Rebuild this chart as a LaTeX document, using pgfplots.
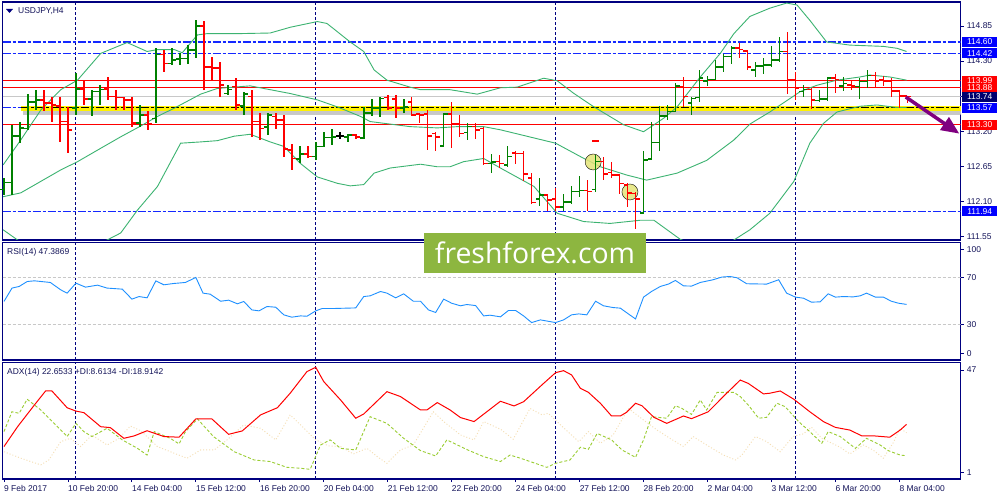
\documentclass[border=0pt]{standalone}
\usepackage{fontspec}
\setmainfont{Liberation Sans}
\newfontfamily\wmfont{Open Sans}
\usepackage{pgfplots}
\pgfplotsset{compat=1.18}
\usepackage{pgfplotstable}
\usetikzlibrary{arrows.meta}

\definecolor{navy}{RGB}{0,0,128}
\definecolor{upgreen}{RGB}{0,128,0}
\definecolor{dnred}{RGB}{255,0,0}
\definecolor{bband}{RGB}{60,179,113}
\definecolor{rsiblue}{RGB}{30,144,255}
\definecolor{diplus}{RGB}{154,205,50}
\definecolor{diminus}{RGB}{245,222,179}
\definecolor{lvlblue}{RGB}{20,40,255}
\definecolor{bidgray}{RGB}{200,200,200}
\definecolor{fxgreen}{RGB}{141,182,64}
\definecolor{txt}{RGB}{20,20,90}
\definecolor{arrowpurple}{RGB}{128,0,128}
\definecolor{hilite}{RGB}{228,228,120}
\definecolor{bidbox}{RGB}{0,0,110}
\definecolor{boxblue}{RGB}{0,0,255}

\newcommand\lbl{\fontsize{8.5}{10}\selectfont}

% OHLC ticks
\pgfdeclareplotmark{ctick}{\pgfsetlinewidth{1.6bp}\pgfpathmoveto{\pgfqpoint{0pt}{0pt}}\pgfpathlineto{\pgfqpoint{4bp}{0pt}}\pgfusepathqstroke}
\pgfdeclareplotmark{otick}{\pgfsetlinewidth{1.6bp}\pgfpathmoveto{\pgfqpoint{0pt}{0pt}}\pgfpathlineto{\pgfqpoint{-4bp}{0pt}}\pgfusepathqstroke}

\pgfplotsset{
  panel/.style={
    scale only axis, width=958bp, anchor=south west,
    xmin=-0.16, xmax=119.675,
    axis line style={navy, line width=1.1bp},
    clip mode=individual,
    ytick pos=right, yticklabel pos=right,
    tick align=outside, major tick length=3bp,
    tick style={navy, line width=0.8bp},
    yticklabel style={anchor=west, inner sep=0pt, xshift=3bp, font=\lbl, text=txt},
    /pgf/number format/assume math mode=true,
    extra x ticks={9,39,69,99}, extra x tick labels={},
    extra x tick style={grid=major, major tick length=0pt},
    major grid style={navy, line width=0.9bp, dash pattern=on 3bp off 2bp},
  },
  bars/.style={only marks, mark=ctick,
    error bars/.cd, y dir=both, y explicit, error mark=none,
    error bar style={#1, line width=1.6bp}},
  hline/.style={line width=1.3bp, line cap=butt},
  bline/.style={line width=1.5bp, line cap=butt, draw=lvlblue, dash pattern=on 8bp off 2bp on 3bp off 2bp},
}

\pgfplotstableread{
i o h l c
0 112.28 112.46 112.20 112.39
1 112.39 113.30 112.20 113.12
2 113.12 113.35 113.01 113.25
3 113.24 113.79 113.22 113.66
4 113.66 113.85 113.53 113.69
9 113.56 114.11 113.45 113.86
11 113.70 113.85 113.43 113.82
12 113.82 113.92 113.61 113.85
17 113.33 113.61 113.27 113.45
19 113.40 114.50 113.32 114.40
21 114.26 114.50 114.24 114.32
22 114.33 114.42 114.24 114.34
23 114.34 114.55 114.26 114.47
24 114.47 114.95 114.34 114.85
28 113.79 113.92 113.77 113.85
30 113.59 113.82 113.45 113.78
33 113.26 113.48 113.14 113.45
37 112.76 112.97 112.70 112.84
39 112.80 113.03 112.75 112.96
40 112.96 113.18 112.95 113.10
41 113.10 113.24 112.98 113.11
43 113.11 113.16 113.03 113.14
45 113.09 113.58 113.07 113.48
46 113.48 113.70 113.43 113.56
47 113.56 113.74 113.42 113.71
50 113.56 113.70 113.48 113.58
55 112.97 113.48 112.96 113.47
58 113.18 113.33 113.06 113.27
61 112.69 112.84 112.54 112.71
63 112.67 112.96 112.64 112.80
67 112.13 112.46 112.02 112.20
70 112.01 112.22 111.95 112.09
71 112.09 112.33 112.06 112.25
72 112.25 112.49 112.17 112.27
74 112.28 112.82 112.25 112.72
80 111.91 112.88 111.91 112.75
81 112.76 113.35 112.76 113.02
82 113.02 113.59 112.89 113.44
83 113.44 113.61 113.37 113.51
84 113.51 113.95 113.51 113.91
86 113.64 113.74 113.45 113.71
87 113.73 114.16 113.66 114.03
88 113.99 114.07 113.91 114.01
89 114.01 114.32 114.00 114.21
90 114.21 114.41 114.12 114.37
91 114.37 114.53 114.26 114.50
94 114.16 114.29 114.05 114.22
95 114.22 114.34 114.10 114.24
96 114.24 114.54 114.21 114.32
97 114.32 114.68 114.29 114.45
100 113.82 113.92 113.74 113.85
102 113.68 113.85 113.66 113.70
103 113.70 114.05 113.68 114.03
105 113.91 114.05 113.83 113.95
107 113.90 114.03 113.71 113.98
108 113.98 114.16 113.87 114.07
}\upbars

\pgfplotstableread{
i o h l c
5 113.69 113.85 113.51 113.64
6 113.64 113.74 113.35 113.61
7 113.59 113.74 113.03 113.35
8 113.35 113.58 112.85 113.22
10 113.86 113.98 113.61 113.70
13 113.86 114.05 113.69 113.74
14 113.74 113.85 113.53 113.73
15 113.73 113.74 113.53 113.69
16 113.69 113.74 113.27 113.33
18 113.45 113.51 113.22 113.32
20 114.40 114.47 114.12 114.26
25 114.85 114.93 113.85 114.21
26 114.21 114.37 114.00 114.19
27 114.19 114.29 113.74 113.92
29 113.90 114.03 113.53 113.61
31 113.74 113.85 113.11 113.35
32 113.35 113.48 113.06 113.24
34 113.43 113.48 113.24 113.37
35 113.37 113.45 112.80 112.92
36 112.90 113.00 112.59 112.77
38 112.84 112.97 112.78 112.80
44 113.14 113.16 113.07 113.11
48 113.73 113.77 113.53 113.56
49 113.70 113.77 113.40 113.56
51 113.66 113.73 113.43 113.45
52 113.47 113.49 113.32 113.45
53 113.47 113.53 112.90 113.12
54 113.16 113.19 112.89 113.11
56 113.47 113.66 112.93 113.32
57 113.32 113.45 113.11 113.16
59 113.27 113.32 113.07 113.22
60 113.24 113.27 112.67 112.69
62 112.72 112.82 112.62 112.69
64 112.86 112.89 112.68 112.85
65 112.85 112.88 112.41 112.53
66 112.46 112.54 112.06 112.08
68 112.20 112.21 111.94 112.12
69 112.13 112.30 111.94 112.01
73 112.27 112.43 111.94 112.25
75 112.72 112.80 112.43 112.53
76 112.55 112.72 112.46 112.51
77 112.51 112.51 112.22 112.38
78 112.35 112.38 112.01 112.23
79 112.22 112.25 111.67 112.13
85 113.89 114.05 113.58 113.74
92 114.50 114.59 114.34 114.48
93 114.46 114.47 114.16 114.21
98 114.45 114.75 113.79 114.00
99 114.00 114.13 113.69 113.87
101 113.85 113.87 113.54 113.69
104 114.03 114.10 113.80 114.01
106 113.92 113.98 113.85 113.91
109 114.07 114.13 113.87 113.99
110 114.00 114.07 113.91 113.98
111 113.99 114.03 113.73 113.83
112 113.83 113.85 113.56 113.75
113 113.75 113.75 113.64 113.74
}\dnbars

\pgfplotstableread{
i o h l c
42 113.12 113.18 113.07 113.12
}\dojibars

\pgfplotstableread{
x y
-0.1 112.67
2.1 113.06
4.6 113.53
7.1 113.85
9.2 114.00
12.1 114.42
15.4 114.59
17.9 114.45
19.2 114.48
21.3 114.48
22.3 114.43
24.2 114.71
25.4 114.73
29.2 114.73
33.3 114.74
35.8 114.83
39.2 114.92
40.4 114.89
43.3 114.60
45.0 114.45
46.3 114.16
47.9 114.00
50.8 113.89
52.1 113.85
55.8 113.85
59.2 113.78
62.1 113.88
64.2 113.89
67.5 114.03
69.2 113.99
71.3 113.79
73.8 113.58
77.5 113.30
80.0 113.19
82.5 113.40
84.2 113.58
87.1 114.05
89.6 114.42
91.3 114.73
93.3 115.00
95.8 115.13
97.9 115.21
99.2 115.18
100.8 114.94
102.9 114.60
105.8 114.55
110.0 114.53
111.7 114.50
112.9 114.45
}\bbup

\pgfplotstableread{
x y
-0.1 112.17
2.1 112.23
4.6 112.41
7.1 112.59
9.2 112.72
12.1 112.93
14.6 113.11
17.1 113.28
19.2 113.43
21.3 113.56
24.6 113.78
26.7 113.87
30.8 113.91
33.3 113.85
35.8 113.79
39.2 113.69
41.7 113.58
44.6 113.43
45.8 113.35
48.3 113.31
50.8 113.27
54.2 113.25
56.7 113.27
60.0 113.27
62.1 113.22
69.0 113.01
72.1 112.80
74.6 112.64
77.9 112.51
80.4 112.43
84.2 112.54
87.9 112.74
91.3 113.06
93.3 113.31
95.8 113.50
98.3 113.71
99.6 113.82
101.7 113.92
104.2 114.00
107.1 114.05
108.3 114.08
110.8 114.05
112.9 114.00
}\bbmid

\pgfplotstableread{
x y
-0.1 111.65
1.7 111.49
4.0 111.38
8.0 111.35
11.0 111.40
12.9 111.49
14.6 111.60
16.7 111.96
19.2 112.33
22.1 113.01
24.6 113.03
26.7 113.05
28.8 113.12
30.8 113.15
33.3 113.03
35.0 112.96
37.1 112.69
39.2 112.48
41.7 112.38
43.3 112.34
45.0 112.36
46.3 112.54
48.3 112.62
52.1 112.68
54.2 112.64
55.8 112.64
57.5 112.72
60.0 112.77
62.1 112.62
66.3 112.33
69.2 111.91
72.5 111.78
75.8 111.75
79.6 111.80
81.3 111.80
84.6 111.50
87.0 111.38
89.5 111.38
91.3 111.49
93.3 111.65
95.8 111.91
98.8 112.41
100.8 113.01
102.5 113.32
104.2 113.50
107.1 113.59
109.2 113.61
111.7 113.57
112.9 113.57
}\bblow

\pgfplotstableread{
x y
0 49.9
1.0 61.3
1.9 62.7
2.9 66.9
3.8 67.5
5.8 66.1
7.1 59.8
7.9 57.0
9.0 65.5
10.2 62.1
11.7 63.8
12.9 61.3
14.8 60.4
16.0 51.9
16.9 54.1
17.9 53.0
19.0 67.5
20.0 64.1
21.2 65.2
22.7 66.1
24.0 70.4
24.9 57.0
25.8 56.1
27.1 50.1
28.1 51.0
29.2 47.9
30.0 49.9
31.0 42.7
31.9 41.9
32.9 45.6
34.0 45.0
35.0 38.5
36.0 36.5
37.1 37.6
37.9 37.3
39.0 41.9
39.8 43.9
41.2 43.9
44.0 44.4
45.0 54.1
45.8 54.7
47.1 58.4
47.9 57.0
49.0 53.0
50.0 56.4
51.2 50.1
52.1 50.1
53.1 42.7
54.0 40.5
55.0 51.9
56.0 48.4
57.1 46.2
57.9 47.3
59.0 46.4
60.0 37.6
60.8 38.2
62.1 36.8
63.1 42.2
64.0 42.2
65.0 37.6
66.0 31.9
67.1 34.2
69.0 31.9
70.0 34.2
71.0 38.5
71.9 39.3
72.9 38.5
74.0 50.1
75.0 46.2
76.2 44.7
77.1 44.2
78.1 39.3
79.0 35.0
80.0 53.6
81.0 58.4
82.1 62.7
83.1 64.7
84.0 67.8
85.0 63.2
86.0 63.0
87.1 66.1
88.7 68.4
89.8 70.7
90.8 71.2
91.7 70.1
92.9 65.0
95.4 64.7
96.9 68.4
97.9 57.0
99.0 53.6
100.0 52.7
101.0 49.3
102.1 49.6
103.1 56.4
104.0 53.6
105.0 54.1
106.2 53.8
107.1 54.7
107.9 57.0
109.0 53.6
110.0 53.6
111.0 50.1
111.9 48.4
112.9 47.4
}\rsi

\pgfplotstableread{
x y
0 12.7
1.7 21.6
3.8 31.3
5.2 37.6
6.0 37.6
7.9 30.1
9.0 28.6
10.0 27.9
12.1 21.6
13.3 21.2
15.0 16.4
16.3 17.5
17.9 19.8
20.0 17.2
21.9 16.9
24.0 25.1
26.0 25.1
28.1 18.2
29.8 19.7
32.1 26.9
34.2 30.1
35.8 36.6
37.9 46.3
39.0 48.2
40.0 41.8
42.1 33.6
44.0 25.4
45.0 27.3
47.9 37.3
49.6 35.1
52.1 29.1
52.9 29.1
54.2 32.4
55.8 29.1
57.1 25.7
58.8 23.9
62.1 33.0
63.8 30.9
65.0 32.8
67.5 41.0
69.0 45.8
70.0 46.7
71.0 44.8
72.1 38.8
73.1 37.0
74.6 32.1
76.0 26.4
77.1 26.4
77.9 28.1
79.0 32.1
79.8 31.0
81.3 25.8
82.9 23.1
85.0 26.4
86.0 25.2
88.1 28.3
90.4 36.6
92.1 42.5
93.1 41.0
95.0 36.3
95.8 36.6
97.1 37.6
98.8 33.9
100.8 28.3
102.5 23.9
104.0 21.3
105.8 20.1
107.3 17.5
108.8 17.5
110.8 16.9
112.1 20.1
112.9 22.65
}\adx

\pgfplotstableread{
x y
0 19.4
1.0 28.3
1.9 27.6
2.9 33.9
4.6 29.1
7.3 19.4
7.9 17.2
9.0 23.1
10.0 19.4
11.0 17.2
12.9 20.9
14.8 15.7
16.7 11.9
17.9 8.9
18.8 19.4
20.8 16.4
21.9 13.9
22.7 19.4
24.2 25.1
26.2 17.2
28.8 10.4
31.3 6.7
33.3 6.0
35.4 3.4
37.1 3.0
38.3 2.5
39.6 13.4
40.8 15.7
42.1 11.9
44.0 11.2
45.8 26.1
47.9 23.1
50.0 16.4
52.1 10.9
54.0 8.5
55.4 15.7
58.0 11.2
60.0 8.2
62.1 6.0
63.3 8.9
64.6 7.5
66.7 4.9
67.9 3.4
69.0 5.2
70.8 6.7
72.1 12.4
73.1 11.5
74.2 18.6
76.0 15.7
77.3 11.2
79.0 7.9
80.0 15.7
81.0 26.1
82.9 25.4
84.0 31.0
84.8 29.8
86.0 27.1
87.1 33.6
87.9 29.1
89.2 37.0
91.3 37.0
92.1 35.1
93.1 31.3
94.4 25.4
95.4 25.8
96.7 32.1
97.7 30.6
99.4 23.9
100.8 19.4
102.3 14.2
103.1 19.4
104.6 17.2
106.5 11.9
107.9 16.4
109.6 13.4
110.6 10.9
112.1 8.9
112.9 8.6
}\diplusdata

\pgfplotstableread{
x y
0 10.4
2.1 7.5
4.6 4.5
5.6 6.7
7.1 14.9
8.3 16.4
9.6 12.7
11.0 17.9
12.9 13.4
14.4 16.4
15.8 21.9
17.1 19.8
19.2 12.7
21.3 9.7
22.9 7.5
24.6 11.2
26.3 11.2
27.9 15.7
30.0 22.4
32.1 20.9
34.0 15.7
35.8 26.9
37.1 22.4
39.0 15.7
40.6 13.0
42.1 12.7
43.7 9.4
45.4 11.9
46.7 8.2
47.9 5.2
49.6 11.2
51.2 13.4
53.7 28.3
55.0 23.9
57.1 17.9
58.8 15.7
60.0 23.9
62.1 20.5
63.7 16.0
65.8 29.8
67.3 26.9
68.1 27.6
69.4 23.1
71.9 14.9
73.1 19.4
74.6 14.2
76.2 17.9
78.1 29.8
80.0 24.6
81.7 20.1
83.3 16.4
85.0 12.7
86.2 17.2
87.9 13.4
90.0 8.9
91.5 6.7
92.3 8.9
94.0 17.2
95.4 14.9
97.1 10.4
98.7 17.2
100.0 18.4
101.0 21.4
102.3 16.4
104.6 12.4
105.8 9.4
107.5 13.4
108.7 11.2
110.0 7.5
111.2 14.2
112.1 20.9
112.9 18.9
}\diminusdata

\begin{document}
\begin{tikzpicture}
\useasboundingbox (0,0) rectangle (1000bp,500bp);
\fill[white] (0,0) rectangle (1000bp,500bp);

% ---------------- price panel
\begin{axis}[panel, at={(2.7bp,260bp)}, height=238bp,
  ymin=111.49, ymax=115.227, xtick=\empty,
  ytick={111.55,112.10,112.65,113.20,113.75,114.30,114.85},
  yticklabel={\pgfmathprintnumber[fixed,fixed zerofill,precision=2]{\tick}},
]
% levels
\addplot[bline] coordinates {(-0.16,114.60) (119.675,114.60)};
\addplot[bline] coordinates {(-0.16,114.42) (119.675,114.42)};
\addplot[hline, draw=dnred, line width=1bp] coordinates {(-0.16,113.99) (119.675,113.99)};
\addplot[hline, draw=dnred, line width=1bp] coordinates {(-0.16,113.88) (119.675,113.88)};
\addplot[hline, draw=bidgray, line width=1bp] coordinates {(-0.16,113.74) (119.675,113.74)};
\addplot[bline] coordinates {(-0.16,113.57) (119.675,113.57)};
\addplot[hline, draw=dnred, line width=1bp] coordinates {(-0.16,113.30) (119.675,113.30)};
\addplot[bline] coordinates {(-0.16,111.94) (119.675,111.94)};
\shade[top color=black!22, bottom color=white] (axis cs:2.4,113.521) rectangle (axis cs:119.675,113.455);
\fill[yellow] (axis cs:2.1,113.595) rectangle (axis cs:119.675,113.521);
\addplot[hline, draw=black, line width=1.1bp, dash pattern=on 8bp off 2bp on 3bp off 2bp] coordinates {(2.1,113.567) (119.675,113.567)};
% bollinger
\addplot[bband, line width=0.9bp] table {\bbup};
\addplot[bband, line width=0.9bp] table {\bbmid};
\addplot[bband, line width=0.9bp] table {\bblow};
% highlights
\addplot[only marks, mark=*, mark size=8bp, mark options={fill=hilite, draw=none, fill opacity=0.85}] coordinates {(73.7,112.715) (78.3,112.244)};
\addplot[dnred, line width=1.2bp] coordinates {(73.6,113.045) (74.4,113.045)};
% bars
\addplot[upgreen, bars=upgreen] table[x=i, y=c, y error plus expr=\thisrow{h}-\thisrow{c}, y error minus expr=\thisrow{c}-\thisrow{l}] {\upbars};
\addplot[upgreen, only marks, mark=otick] table[x=i, y=o] {\upbars};
\addplot[dnred, bars=dnred] table[x=i, y=c, y error plus expr=\thisrow{h}-\thisrow{c}, y error minus expr=\thisrow{c}-\thisrow{l}] {\dnbars};
\addplot[dnred, only marks, mark=otick] table[x=i, y=o] {\dnbars};
\addplot[black, bars=black] table[x=i, y=c, y error plus expr=\thisrow{h}-\thisrow{c}, y error minus expr=\thisrow{c}-\thisrow{l}] {\dojibars};
\addplot[black, only marks, mark=otick] table[x=i, y=o] {\dojibars};
% forecast arrow
\draw[arrowpurple, line width=3.5bp, -{Triangle[length=18bp,width=15bp]}] (axis cs:112.8,113.735) -- (axis cs:119.5,113.16);
\coordinate (p1) at (axis cs:119.84,114.60);
\coordinate (p2) at (axis cs:119.84,114.42);
\coordinate (p3) at (axis cs:119.84,113.99);
\coordinate (p4) at (axis cs:119.84,113.88);
\coordinate (p5) at (axis cs:119.84,113.74);
\coordinate (p6) at (axis cs:119.84,113.57);
\coordinate (p7) at (axis cs:119.84,113.30);
\coordinate (p8) at (axis cs:119.84,111.94);
\end{axis}

% ---------------- RSI panel
\begin{axis}[panel, at={(2.7bp,140bp)}, height=117.3bp,
  ymin=0, ymax=100, xtick=\empty,
  ytick={5.7,30,70,94.4}, yticklabels={0,30,70,100},
]
\addplot[draw=bidgray, line width=0.9bp, dash pattern=on 3bp off 2bp] coordinates {(-0.16,70) (119.675,70)};
\addplot[draw=bidgray, line width=0.9bp, dash pattern=on 3bp off 2bp] coordinates {(-0.16,30) (119.675,30)};
\addplot[rsiblue, line width=0.9bp] table {\rsi};
\end{axis}

% ---------------- ADX panel
\begin{axis}[panel, at={(2.7bp,21bp)}, height=116.3bp,
  ymin=-1.82, ymax=50.27,
  ytick={1,47},
  xtick={0,8,...,112}, xtick pos=bottom,
  xticklabels={9 Feb 2017,10 Feb 20:00,14 Feb 04:00,15 Feb 12:00,16 Feb 20:00,20 Feb 04:00,21 Feb 12:00,22 Feb 20:00,24 Feb 04:00,27 Feb 12:00,28 Feb 20:00,2 Mar 04:00,3 Mar 12:00,6 Mar 20:00,8 Mar 04:00},
  xticklabel style={anchor=north west, inner sep=0pt, yshift=-3.5bp, font=\lbl, text=txt},
]
\addplot[diminus, line width=0.9bp, dash pattern=on 1bp off 2bp] table {\diminusdata};
\addplot[diplus, line width=0.9bp, dash pattern=on 3bp off 2bp] table {\diplusdata};
\addplot[dnred, line width=1bp] table {\adx};
\end{axis}

% ---------------- price boxes on the scale
\tikzset{pbox/.style={fill=#1, text=white, anchor=west, inner sep=0pt, minimum width=35bp, minimum height=10bp, font=\lbl}}
\node[pbox=boxblue] at (p1) {114.60};
\node[pbox=boxblue] at (p2) {114.42};
\node[pbox=dnred] at (p3) {113.99};
\node[pbox=dnred] at (p4) {113.88};
\node[pbox=bidbox] at (p5) {113.74};
\node[pbox=boxblue] at (p6) {113.57};
\node[pbox=dnred] at (p7) {113.30};
\node[pbox=boxblue] at (p8) {111.94};

% ---------------- titles
\fill[navy] (6bp,491bp) -- (13bp,491bp) -- (9.5bp,487bp) -- cycle;
\node[anchor=west, inner sep=0pt, font=\lbl, text=txt] at (18bp,489bp) {USDJPY,H4};
\node[anchor=west, inner sep=0pt, font=\lbl, text=txt] at (7bp,248bp) {RSI(14) 47.3869};
\node[anchor=west, inner sep=0pt, font=\lbl, text=txt] at (7bp,128bp) {ADX(14) 22.6533 +DI:8.6134 -DI:18.9142};

% ---------------- watermark
\node[fill=fxgreen, text=white, inner sep=0pt, minimum width=222bp, minimum height=40bp, font=\wmfont\fontsize{28.5}{30}\selectfont] at (535bp,247bp) {freshforex.com};
\end{tikzpicture}
\end{document}
